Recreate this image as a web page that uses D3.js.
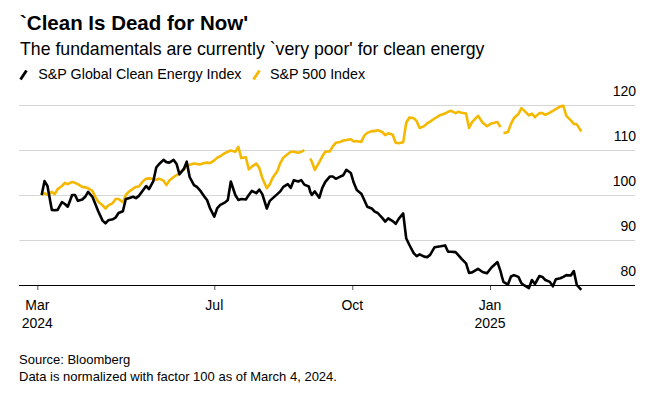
<!DOCTYPE html>
<html>
<head>
<meta charset="utf-8">
<script src="https://cdn.jsdelivr.net/npm/d3@7"></script>
<style>
  body { margin: 0; background: #fff; }
  svg { display: block; font-family: 'Liberation Sans', Arial, sans-serif; }
</style>
</head>
<body>
<div id="chart"></div>
<script>

////////////////////////////////////////////////////////////
// Data
////////////////////////////////////////////////////////////

const dates = [
  '2024-03-04','2024-03-06','2024-03-08','2024-03-11','2024-03-13','2024-03-15','2024-03-18','2024-03-20','2024-03-22','2024-03-25','2024-03-27','2024-03-29',
  '2024-04-01','2024-04-03','2024-04-05','2024-04-08','2024-04-10','2024-04-12','2024-04-15','2024-04-17','2024-04-19','2024-04-22','2024-04-24','2024-04-26','2024-04-29',
  '2024-05-01','2024-05-03','2024-05-06','2024-05-08','2024-05-10','2024-05-13','2024-05-15','2024-05-17','2024-05-20','2024-05-22','2024-05-24','2024-05-27','2024-05-29','2024-05-31',
  '2024-06-03','2024-06-05','2024-06-07','2024-06-10','2024-06-12','2024-06-14','2024-06-17','2024-06-19','2024-06-21','2024-06-24','2024-06-26','2024-06-28',
  '2024-07-01','2024-07-03','2024-07-05','2024-07-08','2024-07-10','2024-07-12','2024-07-15','2024-07-17','2024-07-19','2024-07-22','2024-07-24','2024-07-26','2024-07-29','2024-07-31',
  '2024-08-02','2024-08-05','2024-08-07','2024-08-09','2024-08-12','2024-08-14','2024-08-16','2024-08-19','2024-08-21','2024-08-23','2024-08-26','2024-08-28','2024-08-30',
  '2024-09-02','2024-09-03','2024-09-04','2024-09-06','2024-09-09','2024-09-11','2024-09-13','2024-09-16','2024-09-18','2024-09-20','2024-09-23','2024-09-25','2024-09-27','2024-09-30',
  '2024-10-02','2024-10-04','2024-10-07','2024-10-09','2024-10-11','2024-10-14','2024-10-16','2024-10-18','2024-10-21','2024-10-23','2024-10-25','2024-10-28','2024-10-30',
  '2024-11-01','2024-11-04','2024-11-06','2024-11-08','2024-11-11','2024-11-13','2024-11-15','2024-11-18','2024-11-20','2024-11-22','2024-11-25','2024-11-27','2024-11-29',
  '2024-12-02','2024-12-04','2024-12-06','2024-12-09','2024-12-11','2024-12-13','2024-12-16','2024-12-18','2024-12-20','2024-12-24','2024-12-27','2024-12-30',
  '2025-01-02','2025-01-06','2025-01-08','2025-01-09','2025-01-10','2025-01-13','2025-01-15','2025-01-17','2025-01-20','2025-01-22','2025-01-24','2025-01-27','2025-01-29','2025-01-31',
  '2025-02-03','2025-02-05','2025-02-07','2025-02-10','2025-02-12','2025-02-14','2025-02-17','2025-02-19','2025-02-21','2025-02-24','2025-02-26','2025-02-28',
  '2025-03-03'
]

// S&P Global Clean Energy Index (normalized, 100 = Mar 4 2024)
const cleanEnergy = [
  100.0, 103.1, 102.0, 96.7, 96.6, 96.7, 98.4, 98.0, 97.4, 100.0, 100.0, 98.7,
  99.0, 99.6, 100.7, 99.6, 98.0, 96.4, 94.3, 93.7, 94.4, 94.6, 95.0, 96.0, 96.4,
  99.1, 99.3, 99.6, 99.3, 99.8, 101.1, 102.0, 101.3, 103.1, 106.1, 106.9, 107.8, 107.3, 107.2,
  107.8, 106.9, 104.6, 105.8, 107.4, 104.0, 102.2, 101.8, 101.1, 99.7, 98.9, 97.1,
  95.2, 97.1, 97.8, 98.3, 98.9, 103.0, 100.0, 98.9, 99.1, 99.0, 100.0, 100.9, 100.4, 101.2,
  100.2, 97.0, 98.7, 99.3, 100.2, 100.8, 101.8, 102.4, 101.6, 103.3, 103.0, 103.3, 102.3,
  101.9, 100.7, 100.0, 100.8, 99.4, 101.6, 102.9, 104.1, 104.1, 103.6, 104.1, 104.4, 105.6, 104.9,
  102.7, 101.1, 100.3, 98.9, 97.4, 97.0, 96.3, 96.0, 94.9, 94.1, 94.8, 94.2, 93.6,
  94.7, 95.9, 90.4, 89.0, 87.1, 86.4, 86.8, 86.3, 86.2, 86.7, 88.4, 88.5, 88.6,
  88.8, 87.4, 87.4, 87.3, 86.6, 85.8, 84.8, 82.7, 82.8, 83.6, 82.9, 82.6,
  83.9, 85.1, 83.1, 81.8, 80.7, 80.1, 81.9, 82.2, 81.8, 80.4, 79.9, 79.3, 81.1, 80.2,
  82.0, 81.8, 81.1, 80.7, 79.7, 81.3, 81.5, 81.8, 82.2, 82.1, 83.1, 80.0,
  78.9
]

// S&P 500 Index (normalized, 100 = Mar 4 2024), null = market closed
const sp500 = [
  100.0, 100.4, 100.0, 100.7, 100.2, 101.3, 102.0, 102.7, 102.4, 102.9, 102.7, 102.4,
  101.8, 101.7, 101.5, 100.9, 99.6, 98.5, 97.7, 97.0, 97.7, 98.2, 99.1, 99.1, 98.4,
  100.0, 100.7, 101.4, 101.8, 101.9, 103.1, 103.6, 103.7, 103.6, 103.4, 103.6, 103.2, 102.2, 103.2,
  104.0, 104.4, 104.9, 105.6, 106.4, 106.7, 107.0, 106.9, 106.8, 107.1, 107.2, 107.1,
  107.7, 108.3, 108.6, 109.3, 109.6, 109.9, 109.6, 110.7, 108.2, 108.4, 105.7, 106.3, 107.0, 106.0,
  103.8, 101.5, 102.4, 103.9, 105.3, 107.1, 108.3, 109.1, 109.6, 109.6, 109.4, 109.6, 110.0,
  null, 108.1, 107.4, 105.6, 107.3, 108.6, 109.6, 109.7, 110.8, 111.6, 111.8, 112.1, 112.2, 112.4,
  111.9, 112.0, 111.8, 113.2, 113.8, 114.2, 114.2, 114.4, 114.0, 113.3, 113.7, 113.4, 111.6,
  111.5, 111.7, 116.0, 117.2, 117.1, 116.4, 114.9, 115.3, 115.9, 116.3, 117.0, 117.4, 117.8,
  118.1, 118.5, 118.7, 118.2, 118.5, 118.3, 118.1, 114.9, 116.2, 117.6, 116.1, 115.3,
  115.9, 116.2, 115.1, null, 113.7, 114.0, 115.8, 117.1, 118.0, 119.3, 118.7, 117.7, 118.1, 117.3,
  118.2, 118.2, 117.8, 118.3, 118.7, 119.1, 119.7, 119.8, 117.6, 116.6, 115.8, 115.7,
  114.1
]

const seriesNames = ['S&P Global Clean Energy Index', 'S&P 500 Index']
const monthTicks = ['2024-03-01', '2024-07-01', '2024-10-01', '2025-01-01']
const monthLabels = [['Mar', '2024'], ['Jul'], ['Oct'], ['Jan', '2025']]
const yTicks = [80, 90, 100, 110, 120]

////////////////////////////////////////////////////////////
// Layout
////////////////////////////////////////////////////////////

const W = 661
const H = 399
const plot_left = 19
const plot_right = 635
const plot_top = 105
const plot_bottom = 285
const tick_x = [37.3, 214.3, 352.3, 490]   // month ticks sit on a trading-day axis

const colors = ['#000000', '#f5b800']

const parse = d3.timeParse('%Y-%m-%d')

const svg = d3.select('#chart')
  .append('svg')
  .attr('width', W)
  .attr('height', H)

// Title block
svg.append('text')
  .attr('x', 20)
  .attr('y', 29.5)
  .attr('font-size', 20.5)
  .attr('font-weight', 'bold')
  .attr('fill', '#000')
  .text('`Clean Is Dead for Now\'')

svg.append('text')
  .attr('x', 20)
  .attr('y', 55)
  .attr('font-size', 17.7)
  .attr('fill', '#000')
  .text('The fundamentals are currently `very poor\' for clean energy')

// Legend
const legend_x = [20, 253]
seriesNames.forEach((name, i) => {
  let g = svg.append('g').attr('transform', `translate(${legend_x[i]},0)`)
  g.append('line')
    .attr('x1', 0.5).attr('y1', 79.5)
    .attr('x2', 6.5).attr('y2', 70.5)
    .attr('stroke', colors[i])
    .attr('stroke-width', 2.8)
  g.append('text')
    .attr('x', i == 0 ? 18.3 : 17)
    .attr('y', 78.5)
    .attr('font-size', 14.3)
    .attr('fill', '#000')
    .text(name)
})

////////////////////////////////////////////////////////////
// Scales
////////////////////////////////////////////////////////////

const x = d3.scaleTime()
  .domain(monthTicks.map(parse))
  .range(tick_x)

const y = d3.scaleLinear()
  .domain([80, 120])
  .range([plot_bottom, plot_top])

// Gridlines
svg.append('g')
  .selectAll('line')
  .data(yTicks.filter(v => v > 80))
  .enter()
  .append('line')
    .attr('x1', plot_left)
    .attr('x2', plot_right)
    .attr('y1', d => y(d) + 0.5)
    .attr('y2', d => y(d) + 0.5)
    .attr('stroke', '#d6d6d6')
    .attr('stroke-width', 1)

// Y labels
svg.append('g')
  .selectAll('text')
  .data(yTicks)
  .enter()
  .append('text')
    .attr('x', 636)
    .attr('y', d => y(d) - 9.5)
    .attr('text-anchor', 'end')
    .attr('font-size', 14)
    .attr('fill', '#000')
    .text(d => d)

// X axis
const x_axis = svg.append('g')
  .attr('transform', `translate(0,${plot_bottom})`)
  .call(
    d3.axisBottom(x)
      .tickValues(monthTicks.map(parse))
      .tickSize(5)
      .tickFormat('')
  )
x_axis.select('.domain').remove()
x_axis.selectAll('.tick line')
  .attr('stroke', '#555')

svg.append('line')
  .attr('x1', plot_left)
  .attr('x2', plot_right)
  .attr('y1', plot_bottom + 0.5)
  .attr('y2', plot_bottom + 0.5)
  .attr('stroke', '#000')
  .attr('stroke-width', 1)

monthTicks.forEach((m, i) => {
  let t = svg.append('text')
    .attr('text-anchor', 'middle')
    .attr('font-size', 14)
    .attr('fill', '#000')
  monthLabels[i].forEach((lab, k) => {
    t.append('tspan')
      .attr('x', x(parse(m)))
      .attr('y', 310 + k * 18.3)
      .text(lab)
  })
})

////////////////////////////////////////////////////////////
// Lines
////////////////////////////////////////////////////////////

const line = d3.line()
  .defined(d => d[1] != null)
  .x(d => x(d[0]))
  .y(d => y(d[1]))

const series = [cleanEnergy, sp500]
// draw S&P 500 first so the clean energy line sits on top
;[1, 0].forEach(i => {
  let pts = dates.map((d, k) => [parse(d), series[i][k]])
  svg.append('path')
    .datum(pts)
    .attr('d', line)
    .attr('fill', 'none')
    .attr('stroke', colors[i])
    .attr('stroke-width', 2.6)
    .attr('stroke-linejoin', 'round')
})

// Footer
svg.append('text')
  .attr('x', 19)
  .attr('y', 364)
  .attr('font-size', 13)
  .attr('fill', '#000')
  .text('Source: Bloomberg')

svg.append('text')
  .attr('x', 19)
  .attr('y', 380.5)
  .attr('font-size', 13)
  .attr('fill', '#000')
  .text('Data is normalized with factor 100 as of March 4, 2024.')

</script>
</body>
</html>
